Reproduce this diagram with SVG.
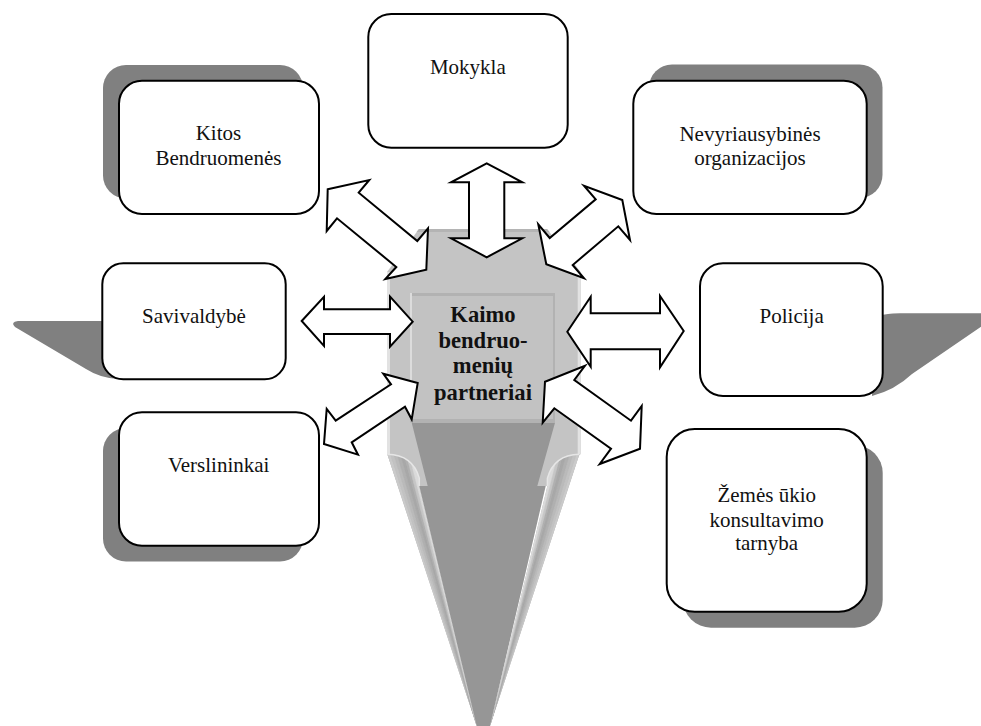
<svg xmlns="http://www.w3.org/2000/svg" width="981" height="726" viewBox="0 0 981 726">
<style>
.box{fill:#fff;stroke:#000;stroke-width:2}
.sh{fill:#808080}
.ar{fill:#fff;stroke:#000;stroke-width:2;stroke-linejoin:miter;stroke-miterlimit:10}
text{font-family:"Liberation Serif","Times New Roman",serif;font-size:21px;fill:#111;text-anchor:middle}
.b{font-weight:bold;font-size:22.6px}
</style>
<defs>
<clipPath id="wc"><path d="M387.3 454.3Q413 455 419.3 478.3L419.3 486L476.7 726Z"/></clipPath>
<g id="wing">
<g clip-path="url(#wc)">
<rect x="380" y="440" width="100" height="290" fill="#b4b4b4"/>
<polygon fill="#cacaca" stroke="#cacaca" stroke-width=".4" points="476.7,726 382,440 386,440"/>
<polygon fill="#c2c2c2" stroke="#c2c2c2" stroke-width=".4" points="476.7,726 386,440 389.5,440"/>
<polygon fill="#bababa" stroke="#bababa" stroke-width=".4" points="476.7,726 389.5,440 393,440"/>
<polygon fill="#b0b0b0" stroke="#b0b0b0" stroke-width=".4" points="476.7,726 393,440 396.5,440"/>
<polygon fill="#a8a8a8" stroke="#a8a8a8" stroke-width=".4" points="476.7,726 396.5,440 400,440"/>
<polygon fill="#b0b0b0" stroke="#b0b0b0" stroke-width=".4" points="476.7,726 400,440 402.5,440"/>
<polygon fill="#c6c6c6" stroke="#c6c6c6" stroke-width=".4" points="476.7,726 402.5,440 405.5,440"/>
<polygon fill="#dadada" stroke="#dadada" stroke-width=".4" points="476.7,726 405.5,440 410,440"/>
</g>
<path d="M387.3 454.3Q413 455 419.3 478.3L419.3 486" fill="none" stroke="#e6e6e6" stroke-width="1.5"/>
</g>
</defs>
<g id="center-shape">
<polygon fill="#c4c4c4" points="419,229 547,229 580.7,272 580.7,454 547,486 419.3,486 387,454 387,272"/>
<polygon fill="#b4b4b4" points="419,229 547,229 549.5,232 416.5,232"/>
<rect x="387" y="272" width="3" height="182" fill="#e2e2e2"/>
<rect x="577.7" y="272" width="3" height="182" fill="#e2e2e2"/>
<rect x="410" y="293" width="145" height="129" fill="#c2c2c2"/>
<rect x="410" y="293" width="145" height="3" fill="#b2b2b2"/>
<rect x="410" y="293" width="2" height="129" fill="#dcdcdc"/>
<rect x="553" y="293" width="2" height="129" fill="#b2b2b2"/>
<rect x="410" y="419" width="145" height="3.5" fill="#b2b2b2"/>
<use href="#wing"/>
<use href="#wing" transform="translate(966.7 0) scale(-1 1)"/>
<polygon fill="#969696" points="411.7,422.7 555,422.7 537.3,486 545.7,486 490,726 476.7,726 419.3,486 427.7,486"/>
</g>
<g id="connectors">
<polygon class="ar" points="486.7,163.3 522.3,182.3 504.3,182.3 504.3,238.3 522.3,238.3 486.7,257.3 451,238.3 469,238.3 469,182.3 451,182.3"/>
<polygon class="ar" points="327.7,189.3 369.3,180 358.7,192.7 417.3,241 428,228.3 426.3,269.7 385.3,279 396.3,267 337,218.3 326.7,231"/>
<polygon class="ar" points="622.3,200 584,185.7 595.7,199.3 549.7,238 538.3,224.3 546.3,264.3 584,278.3 572.7,265 618.3,226.3 630,240"/>
<polygon class="ar" points="301.7,321 324,296.7 324,309.3 390,309.3 390,296.7 412.7,321.7 390,346.7 390,334 324,334 324,346"/>
<polygon class="ar" points="567.3,331.7 590.7,296.7 590.7,313.3 660,313.3 660,296 683.7,331 660,367.3 660,349.3 590.7,349.3 590.7,366.7"/>
<polygon class="ar" points="417.7,383 383.3,373.7 391,384.3 335.7,420.7 326.7,409 324,444 358,454.7 351.7,442.3 405,406.7 411.7,419.3"/>
<polygon class="ar" points="545,381.7 585,365.7 574.3,380 631,420.7 641.7,406 640,448.7 599.7,464 611,448.7 554.3,408.3 542.7,422.7"/>
</g>
<g id="node-center-label">
<text class="b" x="483" y="321.7">Kaimo</text>
<text class="b" x="483" y="347.7">bendruo-</text>
<text class="b" x="483" y="373.3">menių</text>
<text class="b" x="483" y="400">partneriai</text>
</g>
<g id="node-mokykla">
<rect class="box" x="368.3" y="14" width="199.4" height="133.7" rx="23"/>
<text x="467.8" y="74">Mokykla</text>
</g>
<g id="node-kitos">
<rect class="sh" x="103" y="65" width="200" height="133.5" rx="23"/>
<rect class="box" x="119" y="80.7" width="200" height="133.3" rx="23"/>
<text x="218.4" y="140">Kitos</text>
<text x="218.4" y="165">Bendruomenės</text>
</g>
<g id="node-nevyriausybines">
<rect class="sh" x="649" y="64.5" width="233.5" height="133.5" rx="23"/>
<rect class="box" x="633.3" y="80.7" width="233.4" height="133.3" rx="23"/>
<text x="750" y="140.7">Nevyriausybinės</text>
<text x="750" y="165">organizacijos</text>
</g>
<g id="node-savivaldybe">
<path class="sh" d="M110 321L18 321Q10 322 15 327L86 369Q100 378 118 379Z"/>
<rect class="box" x="102.3" y="263.3" width="183.4" height="116" rx="21"/>
<text x="194" y="323.3">Savivaldybė</text>
</g>
<g id="node-policija">
<path class="sh" d="M875 316L888 314Q892 313.3 900 313.3L981 313.3L981 326.7L912 374Q895 390 872 396Z"/>
<rect class="box" x="700" y="263.3" width="182.7" height="132.7" rx="23"/>
<text x="791.7" y="323.3">Policija</text>
</g>
<g id="node-verslininkai">
<rect class="sh" x="103" y="428" width="200" height="133.5" rx="23"/>
<rect class="box" x="119" y="412.3" width="200" height="133.4" rx="23"/>
<text x="218.7" y="471.7">Verslininkai</text>
</g>
<g id="node-zemes">
<rect class="sh" x="683" y="445" width="199.7" height="182.7" rx="28"/>
<rect class="box" x="666.7" y="429" width="200" height="182.7" rx="28"/>
<text x="766.7" y="502.3">Žemės ūkio</text>
<text x="766.7" y="526.7">konsultavimo</text>
<text x="766.7" y="550">tarnyba</text>
</g>
</svg>
